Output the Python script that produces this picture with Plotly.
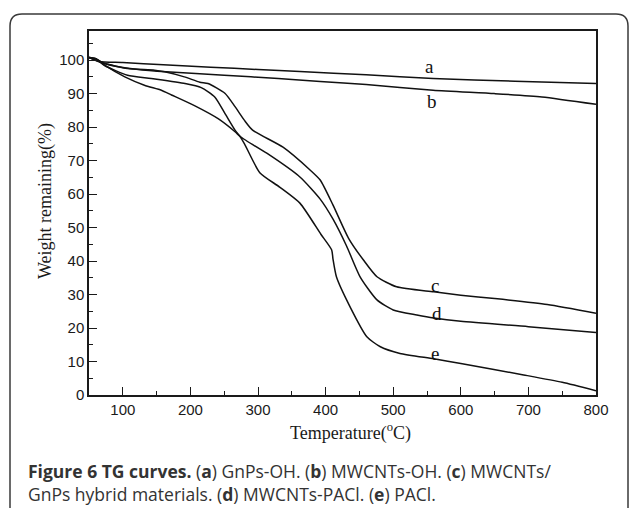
import plotly.graph_objects as go

# ---- data ----
temp_a = [50, 65, 100, 160, 230, 300, 362, 460, 559, 680, 800]
wt_a = [100.8, 99.6, 99.3, 98.6, 97.9, 97.2, 96.6, 95.6, 94.5, 93.7, 93.0]

temp_b = [50, 65, 90, 120, 164, 250, 330, 392, 460, 559, 650, 720, 800]
wt_b = [100.8, 99.5, 98.2, 97.3, 96.5, 95.5, 94.5, 93.6, 92.7, 91.0, 90.0, 89.0, 86.8]

temp_c = [50, 60, 73, 107, 147, 162, 191, 214, 226, 251, 266, 280, 292, 337, 377,
          392, 411, 434, 456, 476, 505, 560, 600, 650, 728, 800]
wt_c = [100.8, 100.4, 99.0, 97.5, 97.0, 96.5, 95.0, 93.4, 93.0, 90.1, 86.1, 82.0, 79.1, 74.0, 67.2,
        64.2, 56.7, 46.8, 40.3, 35.3, 32.3, 30.8, 29.8, 28.8, 27.0, 24.4]

temp_d = [50, 60, 73, 103, 132, 157, 172, 206, 241, 266, 273, 280, 313, 362, 392,
          411, 431, 451, 476, 500, 535, 560, 600, 700, 800]
wt_d = [100.8, 100.4, 98.5, 95.0, 92.5, 91.0, 89.6, 86.4, 82.5, 78.6, 77.3, 76.3, 72.2, 65.1, 58.5,
        52.5, 44.5, 35.3, 28.4, 25.4, 23.9, 23.0, 22.0, 20.4, 18.7]

temp_e = [50, 60, 73, 107, 142, 192, 216, 236, 251, 266, 273, 280, 303, 332, 362,
          393, 409, 411, 416, 436, 461, 481, 510, 560, 600, 693, 750, 800]
wt_e = [100.8, 100.4, 98.4, 95.5, 94.5, 93.0, 91.8, 89.0, 84.1, 79.1, 77.3, 75.0, 66.3, 62.1, 57.3,
        48.0, 43.3, 40.5, 35.3, 26.4, 17.4, 14.4, 12.4, 10.8, 9.4, 6.0, 3.8, 1.3]

curve_labels = ["a", "b", "c", "d", "e"]
label_temp = [554, 557, 562, 565, 562]
label_wt = [98.0, 87.6, 32.8, 24.4, 12.4]

x_ticks = [100, 200, 300, 400, 500, 600, 700, 800]
y_ticks = [0, 10, 20, 30, 40, 50, 60, 70, 80, 90, 100]

caption = ("<b>Figure 6 TG curves.</b> (<b>a</b>) GnPs-OH. (<b>b</b>) MWCNTs-OH. "
           "(<b>c</b>) MWCNTs/<br>"
           "GnPs hybrid materials. (<b>d</b>) MWCNTs-PACl. (<b>e</b>) PACl.")

# ---- layout geometry (pixels) ----
W, H = 629, 514
L, R, T, B = 89, 33, 31, 119
PW, PH = W - L - R, H - T - B


def px(xp):
    return (xp - L) / PW


def py(yp):
    return (H - B - yp) / PH


fig = go.Figure()
line_style = dict(color="#111111", width=1.5, shape="spline", smoothing=0.6)
for xs, ys in [(temp_a, wt_a), (temp_b, wt_b), (temp_c, wt_c), (temp_d, wt_d), (temp_e, wt_e)]:
    fig.add_trace(go.Scatter(x=xs, y=ys, mode="lines", line=line_style,
                             showlegend=False, hoverinfo="skip"))

for lab, tx, wy in zip(curve_labels, label_temp, label_wt):
    fig.add_annotation(x=tx, y=wy, text=lab, showarrow=False, xanchor="center", yanchor="middle",
                       font=dict(family="Liberation Serif", size=19, color="#111111"))

axis_common = dict(showline=True, linecolor="#1a1a1a", linewidth=1.5, mirror=True,
                   ticks="inside", ticklen=8, tickwidth=1.3, tickcolor="#1a1a1a",
                   showgrid=False, zeroline=False,
                   tickfont=dict(family="Liberation Sans", size=15, color="#1a1a1a"))

fig.update_xaxes(range=[50, 800], tickvals=x_ticks,
                 minor=dict(dtick=50, tick0=0, ticks="inside", ticklen=4, tickwidth=1.2,
                            tickcolor="#1a1a1a", showgrid=False),
                 **axis_common)
fig.update_yaxes(range=[0, 108.7], tickvals=y_ticks,
                 minor=dict(dtick=5, tick0=0, ticks="inside", ticklen=4, tickwidth=1.2,
                            tickcolor="#1a1a1a", showgrid=False),
                 **axis_common)

# axis titles
fig.add_annotation(xref="paper", yref="paper", x=px(350), y=py(431.7),
                   xanchor="center", yanchor="middle",
                   text="Temperature(<sup>o</sup>C)", showarrow=False,
                   font=dict(family="Liberation Serif", size=18, color="#1a1a1a"))
fig.add_annotation(xref="paper", yref="paper", x=px(45), y=py(201),
                   xanchor="center", yanchor="middle",
                   text="Weight remaining(%)", showarrow=False, textangle=-90,
                   font=dict(family="Liberation Serif", size=18, color="#1a1a1a"))

# caption
fig.add_annotation(xref="paper", yref="paper", x=px(26), y=py(482.7), xanchor="left",
                   yanchor="middle", align="left", text=caption, showarrow=False,
                   font=dict(family="Open Sans", size=17.5, color="#333333"))

# rounded frame
x0, x1, y0, y1, r = 10, 628, 14, 520, 12
path = (f"M {px(x0)},{py(y1 - r)} L {px(x0)},{py(y0 + r)} "
        f"Q {px(x0)},{py(y0)} {px(x0 + r)},{py(y0)} "
        f"L {px(x1 - r)},{py(y0)} Q {px(x1)},{py(y0)} {px(x1)},{py(y0 + r)} "
        f"L {px(x1)},{py(y1 - r)}")
fig.add_shape(type="path", xref="paper", yref="paper", path=path,
              line=dict(color="#3a3a3a", width=1.5))

fig.update_layout(width=W, height=H, margin=dict(l=L, r=R, t=T, b=B),
                  paper_bgcolor="white", plot_bgcolor="white")

fig.write_html("out.html", config={"displayModeBar": False},
               post_script="document.body.style.margin='0px';document.body.style.padding='0px';")
